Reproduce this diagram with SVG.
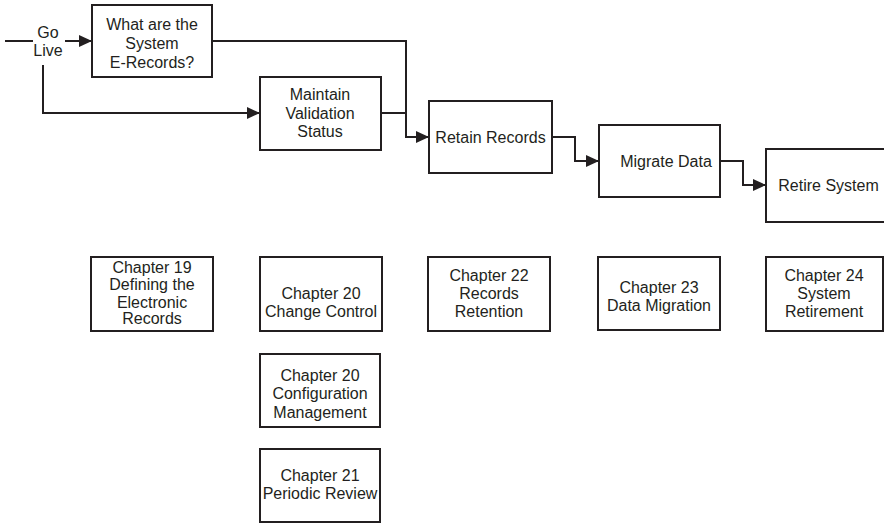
<svg xmlns="http://www.w3.org/2000/svg" width="884" height="524" viewBox="0 0 884 524">
<style>
.box{fill:#fff;stroke:#231f20;stroke-width:2}
.t{font-family:"Liberation Sans",Arial,sans-serif;font-size:16px;fill:#231f20;text-anchor:middle}
.c{fill:none;stroke:#231f20;stroke-width:2}
</style>
<defs>
<marker id="ah" markerUnits="userSpaceOnUse" markerWidth="14" markerHeight="12" refX="13" refY="6" orient="auto">
<path d="M0,0 L13,6 L0,12 Z" fill="#231f20"/>
</marker>
</defs>
<rect width="884" height="524" fill="#fff"/>
<g id="connectors">
<line class="c" x1="5" y1="41" x2="33" y2="41"/>
<line class="c" x1="65" y1="41" x2="92" y2="41" marker-end="url(#ah)"/>
<polyline class="c" points="43,65 43,113 260,113" marker-end="url(#ah)"/>
<polyline class="c" points="212,41 406,41 406,137 429,137" marker-end="url(#ah)"/>
<line class="c" x1="381" y1="113" x2="406" y2="113"/>
<polyline class="c" points="552,137 575,137 575,161 599,161" marker-end="url(#ah)"/>
<polyline class="c" points="720,161 743,161 743,185 766,185" marker-end="url(#ah)"/>
</g>
<g id="golive"><text class="t" x="48" y="38">Go</text><text class="t" x="48" y="56">Live</text></g>
<g id="erecords"><rect class="box" x="92" y="5" width="120" height="72"/><text class="t" x="152" y="30">What are the</text><text class="t" x="152" y="49">System</text><text class="t" x="152" y="68">E-Records?</text></g>
<g id="maintain"><rect class="box" x="260" y="77" width="121" height="73"/><text class="t" x="320" y="100">Maintain</text><text class="t" x="320" y="119">Validation</text><text class="t" x="320" y="137">Status</text></g>
<g id="retain"><rect class="box" x="429" y="101" width="123" height="72"/><text class="t" x="490.5" y="143">Retain Records</text></g>
<g id="migrate"><rect class="box" x="599" y="125" width="121" height="72"/><text class="t" x="666" y="167">Migrate Data</text></g>
<g id="retire"><rect class="box" x="766" y="149" width="122" height="73"/><text class="t" x="828.5" y="191">Retire System</text></g>
<g id="ch19"><rect class="box" x="91" y="257" width="122" height="74"/><text class="t" x="152" y="273">Chapter 19</text><text class="t" x="152" y="290">Defining the</text><text class="t" x="152" y="308">Electronic</text><text class="t" x="152" y="324">Records</text></g>
<g id="ch20cc"><rect class="box" x="260" y="257" width="122" height="74"/><text class="t" x="321" y="299">Chapter 20</text><text class="t" x="321" y="317">Change Control</text></g>
<g id="ch22"><rect class="box" x="428" y="257" width="122" height="74"/><text class="t" x="489" y="281">Chapter 22</text><text class="t" x="489" y="299">Records</text><text class="t" x="489" y="317">Retention</text></g>
<g id="ch23"><rect class="box" x="598" y="257" width="122" height="73"/><text class="t" x="659" y="293">Chapter 23</text><text class="t" x="659" y="311">Data Migration</text></g>
<g id="ch24"><rect class="box" x="766" y="257" width="117" height="74"/><text class="t" x="824" y="281">Chapter 24</text><text class="t" x="824" y="299">System</text><text class="t" x="824" y="317">Retirement</text></g>
<g id="ch20cm"><rect class="box" x="260" y="354" width="120" height="73"/><text class="t" x="320" y="381">Chapter 20</text><text class="t" x="320" y="399">Configuration</text><text class="t" x="320" y="418">Management</text></g>
<g id="ch21"><rect class="box" x="260" y="449" width="120" height="73"/><text class="t" x="320" y="481">Chapter 21</text><text class="t" x="320" y="499">Periodic Review</text></g>
</svg>
